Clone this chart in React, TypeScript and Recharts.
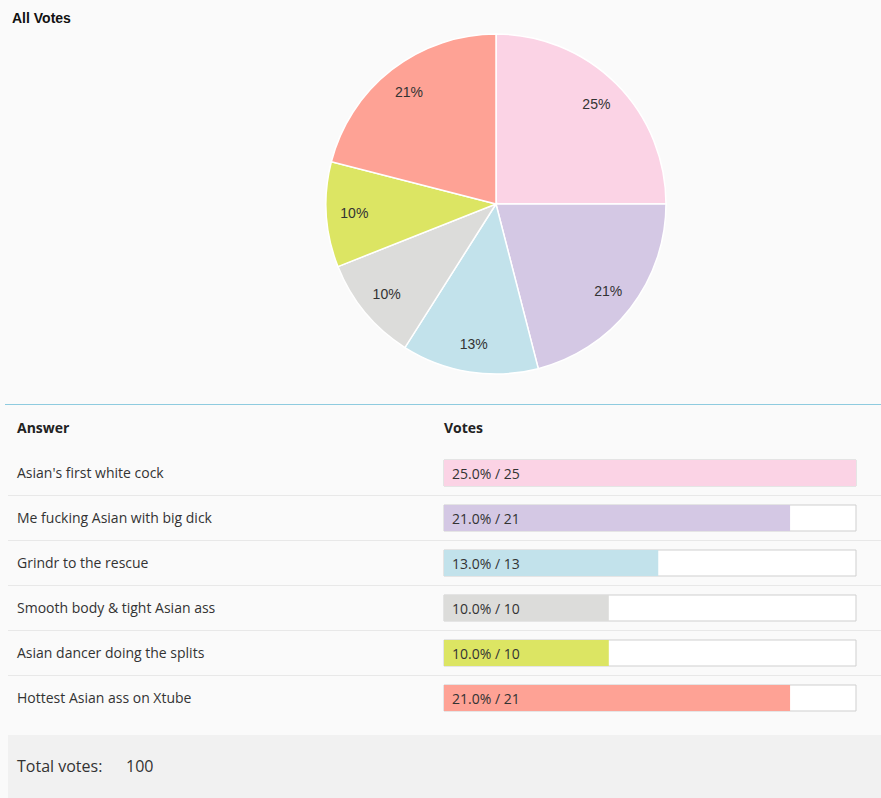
import React from 'react';
import { PieChart, Pie, Cell, BarChart, Bar, XAxis, YAxis, LabelList } from 'recharts';

const answers = [
  "Asian's first white cock",
  'Me fucking Asian with big dick',
  'Grindr to the rescue',
  'Smooth body & tight Asian ass',
  'Asian dancer doing the splits',
  'Hottest Asian ass on Xtube',
];
const votes = [25, 21, 13, 10, 10, 21];
const colors = ['#fbd3e5', '#d4c8e4', '#c2e2eb', '#dcdcda', '#dce563', '#fea295'];

const total = votes.reduce((a, b) => a + b, 0);
const data = answers.map((name, i) => ({ name, votes: votes[i] }));

const RADIAN = Math.PI / 180;
const tableFont = '"Open Sans", sans-serif';

const pieLabel = (p: any) => {
  const r = p.outerRadius * 0.835;
  const x = p.cx + r * Math.cos(-p.midAngle * RADIAN);
  const y = p.cy + r * Math.sin(-p.midAngle * RADIAN);
  return (
    <text x={x} y={y} textAnchor="middle" dominantBaseline="central" fill="#333"
      style={{ fontFamily: '"Liberation Sans", Arial, sans-serif', fontSize: 14 }}>
      {Math.round(p.percent * 100)}%
    </text>
  );
};

const AnswerTick = (props: any) => {
  const { y, payload, index } = props;
  return (
    <g>
      <text x={17} y={y} dominantBaseline="central" fill="#333"
        style={{ fontFamily: tableFont, fontSize: 14 }}>
        {payload.value}
      </text>
      {index < answers.length - 1 && (
        <line x1={8} x2={881} y1={y + 23} y2={y + 23} stroke="#e8e8e8" />
      )}
    </g>
  );
};

const barLabel = (props: any) => {
  const { x, y, height, index } = props;
  const v = votes[index];
  return (
    <text x={x + 8} y={y + height / 2} dominantBaseline="central" fill="#333"
      style={{ fontFamily: tableFont, fontSize: 14 }}>
      {((v / total) * 100).toFixed(1)}% / {v}
    </text>
  );
};

export default function App() {
  return (
    <div style={{ position: 'absolute', left: 0, top: 0, width: 881, height: 798, background: '#fafafa', overflow: 'hidden' }}>
      <div style={{ position: 'absolute', left: 12, top: 10, fontFamily: '"Liberation Sans", Arial, sans-serif', fontWeight: 'bold', fontSize: 14, color: '#111' }}>
        All Votes
      </div>
      <div style={{ position: 'absolute', left: 0, top: 0 }}>
        <PieChart width={881} height={395} margin={{ top: 0, right: 0, bottom: 0, left: 0 }}>
          <Pie data={data} dataKey="votes" nameKey="name" cx={496} cy={204} outerRadius={170}
            startAngle={90} endAngle={-270} stroke="#fff" strokeWidth={1.5}
            label={pieLabel} labelLine={false} isAnimationActive={false}>
            {data.map((d, i) => <Cell key={d.name} fill={colors[i]} />)}
          </Pie>
        </PieChart>
      </div>

      <div style={{ position: 'absolute', left: 5, top: 404, width: 876, height: 1, background: '#8ecbdf' }} />
      <div style={{ position: 'absolute', left: 17, top: 418, fontFamily: tableFont, fontWeight: 'bold', fontSize: 14, color: '#222' }}>Answer</div>
      <div style={{ position: 'absolute', left: 444, top: 418, fontFamily: tableFont, fontWeight: 'bold', fontSize: 14, color: '#222' }}>Votes</div>

      <div style={{ position: 'absolute', left: 0, top: 450 }}>
        <BarChart layout="vertical" width={881} height={270} data={data}
          margin={{ top: 0, right: 25, bottom: 0, left: 8 }}>
          <XAxis type="number" domain={[0, Math.max(...votes)]} hide />
          <YAxis type="category" dataKey="name" width={436} axisLine={false} tickLine={false} tick={AnswerTick} />
          <Bar dataKey="votes" barSize={26} background={{ fill: '#fff', stroke: '#cfcfcf' }} isAnimationActive={false}>
            {data.map((d, i) => <Cell key={d.name} fill={colors[i]} />)}
            <LabelList dataKey="votes" content={barLabel} />
          </Bar>
        </BarChart>
      </div>

      <div style={{ position: 'absolute', left: 8, top: 735, width: 873, height: 63, background: '#f1f1f1', fontFamily: tableFont, fontSize: 16, color: '#333' }}>
        <span style={{ position: 'absolute', left: 9, top: 20 }}>Total votes:</span>
        <span style={{ position: 'absolute', left: 118, top: 20 }}>{total}</span>
      </div>
    </div>
  );
}
